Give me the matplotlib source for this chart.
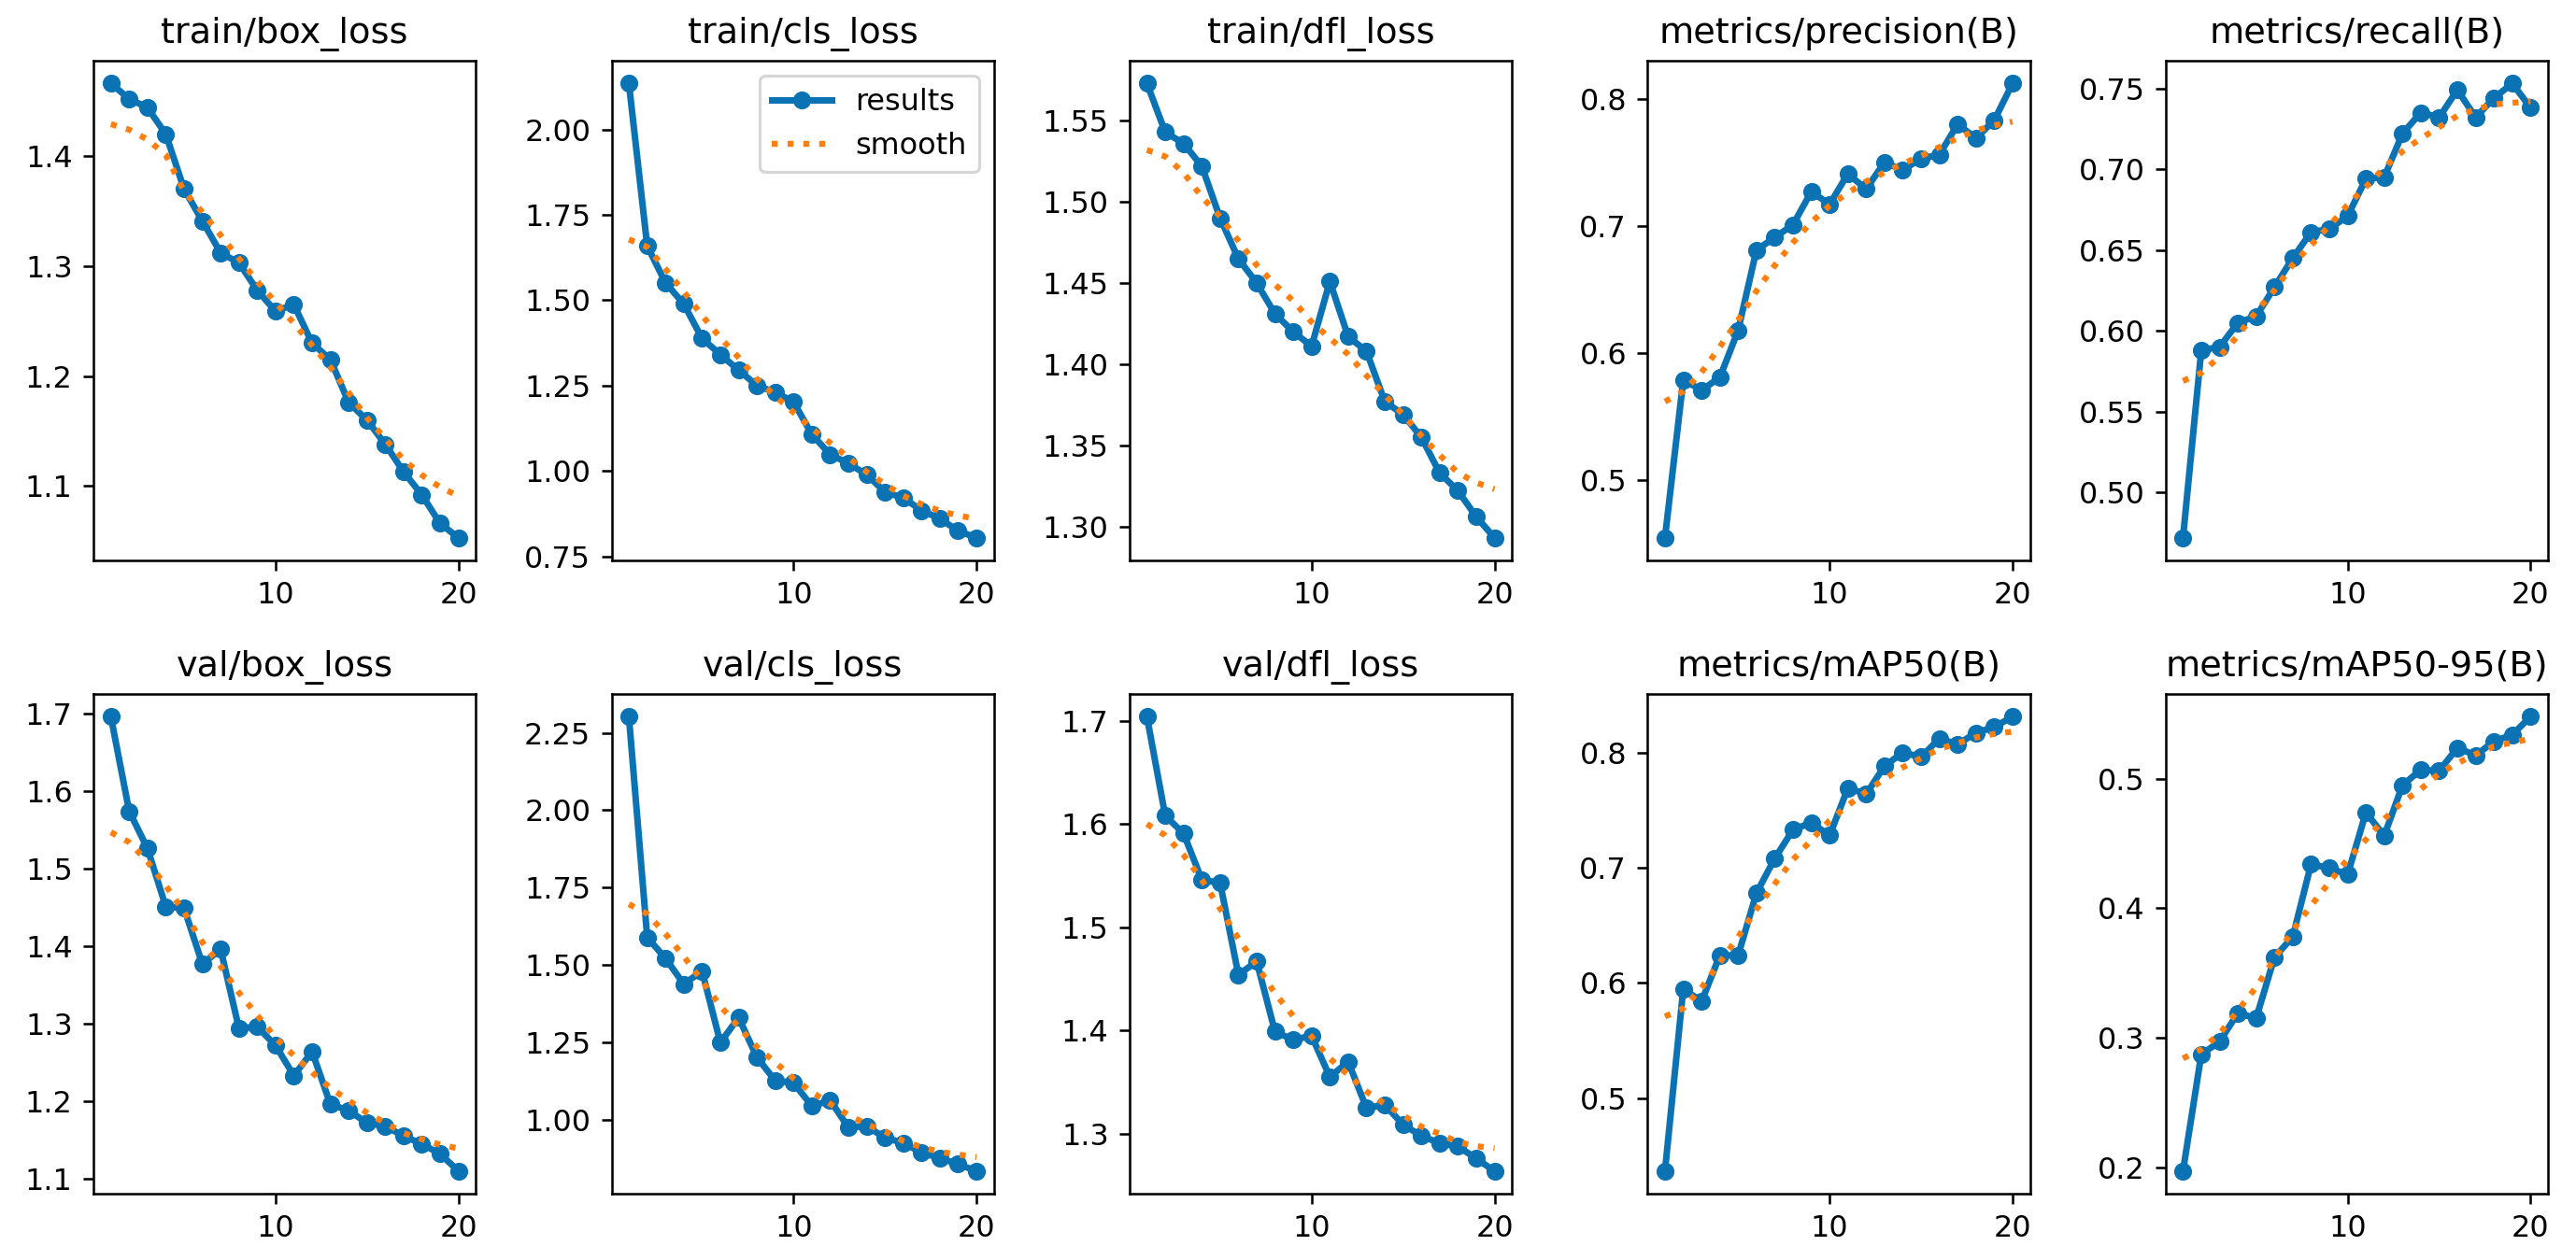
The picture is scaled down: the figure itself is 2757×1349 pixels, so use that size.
import matplotlib
matplotlib.use("Agg")
import matplotlib.pyplot as plt
from matplotlib.ticker import MultipleLocator

epochs = [1, 2, 3, 4, 5, 6, 7, 8, 9, 10, 11, 12, 13, 14, 15, 16, 17, 18, 19, 20]

# values (results + smoothed curve)
train_box_loss = [1.466, 1.452, 1.444, 1.420, 1.370, 1.341, 1.312, 1.303, 1.278, 1.259,
                  1.265, 1.230, 1.215, 1.176, 1.160, 1.138, 1.113, 1.092, 1.066, 1.053]
train_box_loss_smooth = [1.429, 1.424, 1.415, 1.401, 1.368, 1.349, 1.328, 1.307, 1.286, 1.267,
                         1.248, 1.228, 1.208, 1.185, 1.162, 1.143, 1.124, 1.110, 1.099, 1.091]

train_cls_loss = [2.135, 1.659, 1.551, 1.489, 1.388, 1.341, 1.295, 1.250, 1.230, 1.202,
                  1.107, 1.048, 1.022, 0.989, 0.938, 0.921, 0.884, 0.860, 0.824, 0.804]
train_cls_loss_smooth = [1.678, 1.656, 1.591, 1.525, 1.455, 1.390, 1.332, 1.269, 1.219, 1.171,
                         1.124, 1.082, 1.039, 0.997, 0.961, 0.927, 0.902, 0.883, 0.869, 0.860]

train_dfl_loss = [1.573, 1.543, 1.536, 1.522, 1.490, 1.465, 1.450, 1.431, 1.420, 1.411,
                  1.451, 1.417, 1.408, 1.377, 1.369, 1.355, 1.333, 1.322, 1.306, 1.293]
train_dfl_loss_smooth = [1.532, 1.528, 1.518, 1.503, 1.491, 1.476, 1.461, 1.449, 1.439, 1.426,
                         1.416, 1.406, 1.393, 1.381, 1.369, 1.356, 1.344, 1.333, 1.327, 1.323]

precision = [0.455, 0.579, 0.571, 0.581, 0.618, 0.681, 0.691, 0.701, 0.727, 0.717,
             0.741, 0.729, 0.750, 0.744, 0.753, 0.756, 0.780, 0.769, 0.783, 0.812]
precision_smooth = [0.562, 0.570, 0.585, 0.605, 0.626, 0.649, 0.669, 0.687, 0.703, 0.716,
                    0.726, 0.735, 0.742, 0.749, 0.755, 0.762, 0.769, 0.775, 0.779, 0.782]

recall = [0.472, 0.588, 0.590, 0.605, 0.609, 0.627, 0.645, 0.661, 0.663, 0.671,
          0.694, 0.695, 0.722, 0.735, 0.732, 0.749, 0.732, 0.744, 0.753, 0.738]
recall_smooth = [0.569, 0.574, 0.584, 0.597, 0.612, 0.625, 0.641, 0.653, 0.665, 0.678,
                 0.689, 0.701, 0.711, 0.719, 0.726, 0.733, 0.737, 0.740, 0.741, 0.742]

val_box_loss = [1.696, 1.574, 1.526, 1.451, 1.449, 1.377, 1.396, 1.294, 1.296, 1.272,
                1.233, 1.264, 1.196, 1.188, 1.172, 1.168, 1.155, 1.145, 1.132, 1.110]
val_box_loss_smooth = [1.547, 1.534, 1.509, 1.478, 1.444, 1.405, 1.374, 1.340, 1.311, 1.282,
                       1.259, 1.237, 1.217, 1.201, 1.185, 1.172, 1.159, 1.151, 1.144, 1.139]

val_cls_loss = [2.302, 1.589, 1.521, 1.438, 1.480, 1.249, 1.330, 1.201, 1.126, 1.119,
                1.044, 1.062, 0.975, 0.979, 0.941, 0.925, 0.893, 0.876, 0.856, 0.834]
val_cls_loss_smooth = [1.696, 1.665, 1.600, 1.527, 1.448, 1.367, 1.299, 1.235, 1.185, 1.133,
                       1.089, 1.051, 1.015, 0.985, 0.962, 0.931, 0.911, 0.896, 0.887, 0.879]

val_dfl_loss = [1.704, 1.608, 1.591, 1.546, 1.543, 1.454, 1.467, 1.399, 1.391, 1.395,
                1.355, 1.370, 1.325, 1.328, 1.309, 1.298, 1.291, 1.288, 1.276, 1.264]
val_dfl_loss_smooth = [1.600, 1.589, 1.570, 1.546, 1.518, 1.489, 1.463, 1.436, 1.414, 1.394,
                       1.373, 1.357, 1.341, 1.329, 1.318, 1.307, 1.300, 1.292, 1.288, 1.286]

map50 = [0.437, 0.595, 0.584, 0.624, 0.624, 0.678, 0.708, 0.733, 0.739, 0.728,
         0.769, 0.764, 0.788, 0.800, 0.796, 0.812, 0.807, 0.817, 0.822, 0.831]
map50_smooth = [0.571, 0.578, 0.596, 0.618, 0.640, 0.664, 0.686, 0.707, 0.724, 0.741,
                0.754, 0.766, 0.777, 0.787, 0.795, 0.803, 0.808, 0.813, 0.816, 0.818]

map50_95 = [0.197, 0.287, 0.297, 0.319, 0.315, 0.362, 0.378, 0.434, 0.431, 0.426,
            0.474, 0.456, 0.495, 0.507, 0.506, 0.524, 0.518, 0.529, 0.534, 0.548]
map50_95_smooth = [0.284, 0.291, 0.303, 0.321, 0.339, 0.361, 0.383, 0.402, 0.420, 0.438,
                   0.453, 0.469, 0.482, 0.492, 0.504, 0.512, 0.519, 0.525, 0.528, 0.531]

titles = ["train/box_loss", "train/cls_loss", "train/dfl_loss",
          "metrics/precision(B)", "metrics/recall(B)",
          "val/box_loss", "val/cls_loss", "val/dfl_loss",
          "metrics/mAP50(B)", "metrics/mAP50-95(B)"]
series = [train_box_loss, train_cls_loss, train_dfl_loss, precision, recall,
          val_box_loss, val_cls_loss, val_dfl_loss, map50, map50_95]
smooths = [train_box_loss_smooth, train_cls_loss_smooth, train_dfl_loss_smooth,
           precision_smooth, recall_smooth, val_box_loss_smooth, val_cls_loss_smooth,
           val_dfl_loss_smooth, map50_smooth, map50_95_smooth]
# y tick step per panel (None = matplotlib default)
y_steps = [None, 0.25, None, 0.1, None, None, None, None, None, 0.1]

fig, axes = plt.subplots(2, 5, figsize=(12, 1349 / 229.75), dpi=229.75)
fig.subplots_adjust(left=0.0363, right=0.9891, bottom=0.0526, top=0.9518,
                    wspace=0.355, hspace=0.267)

for i, ax in enumerate(axes.ravel()):
    ax.plot(epochs, series[i], marker=".", label="results", linewidth=2.2,
            markersize=10, color="#0b72b3")
    ax.plot(epochs, smooths[i], ":", label="smooth", linewidth=2, color="#ff7f0e")
    ax.set_title(titles[i], fontsize=12)
    ax.set_xticks([10, 20])
    if y_steps[i]:
        ax.yaxis.set_major_locator(MultipleLocator(y_steps[i]))
    if i == 1:
        ax.legend(loc="upper right")

fig.savefig("out.png", dpi=229.75)
